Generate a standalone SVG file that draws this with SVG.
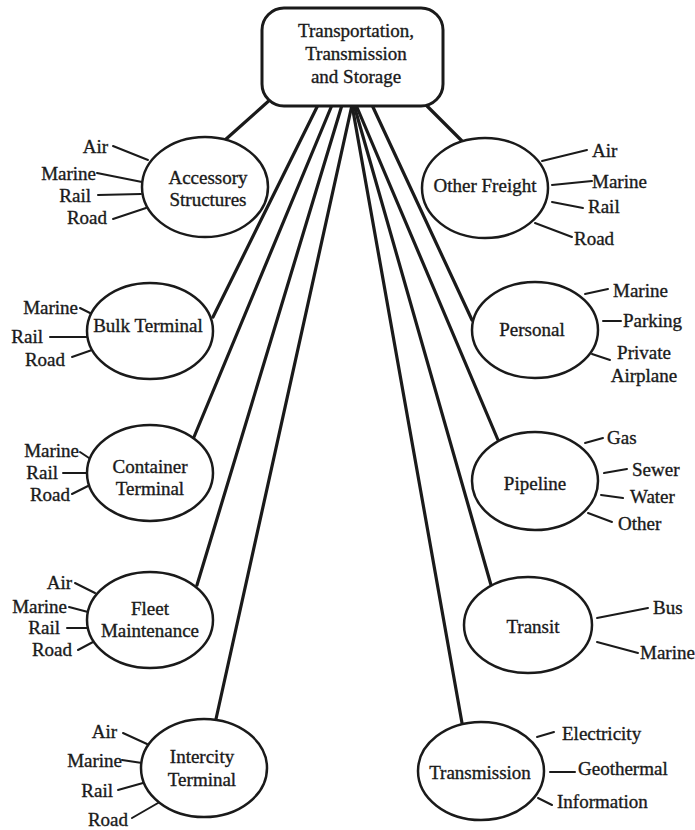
<svg xmlns="http://www.w3.org/2000/svg" width="695" height="830" viewBox="0 0 695 830">
<style>
text{font-family:"Liberation Serif","Times New Roman",serif;font-size:19px;fill:#1a1a1a;stroke:#1a1a1a;stroke-width:0.35}
.c{text-anchor:middle}
.e{text-anchor:end}
.node{fill:#fff;stroke:#1a1a1a;stroke-width:2.5}
.main line{stroke:#1a1a1a;stroke-width:3.2;stroke-linecap:round}
.sub line{stroke:#1a1a1a;stroke-width:2;stroke-linecap:round}
</style>
<rect width="695" height="830" fill="#fff"/>
<g id="connectors">
<g class="main">
<line x1="272" y1="98" x2="225" y2="140"/>
<line x1="424" y1="103" x2="463" y2="142"/>
<line x1="318" y1="105" x2="213" y2="317"/>
<line x1="332" y1="105" x2="194" y2="437"/>
<line x1="342" y1="105" x2="197" y2="585"/>
<line x1="352" y1="105" x2="216" y2="719"/>
<line x1="372" y1="105" x2="472" y2="320"/>
<line x1="356" y1="105" x2="498" y2="440"/>
<line x1="354" y1="105" x2="491" y2="585"/>
<line x1="352" y1="105" x2="462" y2="723"/>
</g>
<g class="sub">
<line x1="113" y1="146" x2="148" y2="160"/>
<line x1="97" y1="173" x2="142" y2="182"/>
<line x1="98" y1="195" x2="141" y2="194"/>
<line x1="113" y1="219" x2="146" y2="208"/>
<line x1="542" y1="161" x2="587" y2="150"/>
<line x1="552" y1="185" x2="592" y2="181"/>
<line x1="552" y1="202" x2="583" y2="208"/>
<line x1="535" y1="223" x2="572" y2="237"/>
<line x1="80" y1="308" x2="92" y2="314"/>
<line x1="50" y1="337" x2="88" y2="337"/>
<line x1="72" y1="357" x2="92" y2="350"/>
<line x1="80" y1="452" x2="92" y2="460"/>
<line x1="63" y1="473" x2="88" y2="473"/>
<line x1="72" y1="494" x2="90" y2="485"/>
<line x1="75" y1="583" x2="95" y2="593"/>
<line x1="69" y1="607" x2="88" y2="612"/>
<line x1="67" y1="628" x2="87" y2="628"/>
<line x1="78" y1="650" x2="93" y2="642"/>
<line x1="123" y1="733" x2="147" y2="744"/>
<line x1="122" y1="760" x2="142" y2="763"/>
<line x1="118" y1="790" x2="143" y2="783"/>
<line x1="132" y1="818" x2="158" y2="803"/>
<line x1="585" y1="294" x2="608" y2="289"/>
<line x1="603" y1="321" x2="621" y2="321"/>
<line x1="592" y1="354" x2="610" y2="360"/>
<line x1="585" y1="443" x2="603" y2="438"/>
<line x1="604" y1="473" x2="627" y2="469"/>
<line x1="601" y1="495" x2="623" y2="498"/>
<line x1="588" y1="513" x2="612" y2="522"/>
<line x1="597" y1="618" x2="648" y2="608"/>
<line x1="597" y1="642" x2="638" y2="653"/>
<line x1="537" y1="737" x2="554" y2="732"/>
<line x1="550" y1="772" x2="575" y2="772"/>
<line x1="538" y1="798" x2="552" y2="805"/>
</g>
</g>
<g id="root">
<rect x="262" y="8" width="181" height="98" rx="22" fill="#fff" stroke="#1a1a1a" stroke-width="3"/>
<text class="c" x="356" y="37">Transportation,</text>
<text class="c" x="356" y="60">Transmission</text>
<text class="c" x="356" y="83">and Storage</text>
</g>
<g id="accessory">
<ellipse class="node" cx="205" cy="187" rx="63" ry="50"/>
<text class="c" x="208" y="184">Accessory</text>
<text class="c" x="208" y="206">Structures</text>
<text class="e" x="108" y="153">Air</text>
<text class="e" x="96" y="180">Marine</text>
<text class="e" x="91" y="202">Rail</text>
<text class="e" x="107" y="224">Road</text>
</g>
<g id="otherfreight">
<ellipse class="node" cx="485" cy="188" rx="63" ry="50"/>
<text class="c" x="485" y="192">Other Freight</text>
<text x="592" y="157">Air</text>
<text x="592" y="188">Marine</text>
<text x="588" y="213">Rail</text>
<text x="574" y="245">Road</text>
</g>
<g id="bulk">
<ellipse class="node" cx="150" cy="331" rx="63" ry="48"/>
<text class="c" x="148" y="332">Bulk Terminal</text>
<text class="e" x="78" y="314">Marine</text>
<text class="e" x="43" y="343">Rail</text>
<text class="e" x="65" y="366">Road</text>
</g>
<g id="container">
<ellipse class="node" cx="150" cy="473" rx="63" ry="48"/>
<text class="c" x="150" y="473">Container</text>
<text class="c" x="150" y="495">Terminal</text>
<text class="e" x="79" y="457">Marine</text>
<text class="e" x="58" y="479">Rail</text>
<text class="e" x="70" y="501">Road</text>
</g>
<g id="fleet">
<ellipse class="node" cx="150" cy="620" rx="63" ry="48"/>
<text class="c" x="150" y="615">Fleet</text>
<text class="c" x="150" y="637">Maintenance</text>
<text class="e" x="72" y="589">Air</text>
<text class="e" x="67" y="613">Marine</text>
<text class="e" x="60" y="634">Rail</text>
<text class="e" x="72" y="656">Road</text>
</g>
<g id="intercity">
<ellipse class="node" cx="204" cy="768" rx="63" ry="49"/>
<text class="c" x="202" y="763">Intercity</text>
<text class="c" x="202" y="786">Terminal</text>
<text class="e" x="117" y="738">Air</text>
<text class="e" x="122" y="767">Marine</text>
<text class="e" x="113" y="797">Rail</text>
<text class="e" x="128" y="826">Road</text>
</g>
<g id="personal">
<ellipse class="node" cx="535" cy="330" rx="63" ry="48"/>
<text class="c" x="532" y="336">Personal</text>
<text x="613" y="297">Marine</text>
<text x="623" y="327">Parking</text>
<text class="c" x="644" y="359">Private</text>
<text class="c" x="644" y="382">Airplane</text>
</g>
<g id="pipeline">
<ellipse class="node" cx="535" cy="481" rx="63" ry="49"/>
<text class="c" x="535" y="490">Pipeline</text>
<text x="607" y="444">Gas</text>
<text x="632" y="476">Sewer</text>
<text x="630" y="503">Water</text>
<text x="618" y="530">Other</text>
</g>
<g id="transit">
<ellipse class="node" cx="528" cy="625" rx="64" ry="48"/>
<text class="c" x="533" y="633">Transit</text>
<text x="653" y="614">Bus</text>
<text x="640" y="659">Marine</text>
</g>
<g id="transmission">
<ellipse class="node" cx="481" cy="771" rx="63" ry="49"/>
<text class="c" x="480" y="779">Transmission</text>
<text x="562" y="740">Electricity</text>
<text x="578" y="775">Geothermal</text>
<text x="557" y="808">Information</text>
</g>
</svg>
